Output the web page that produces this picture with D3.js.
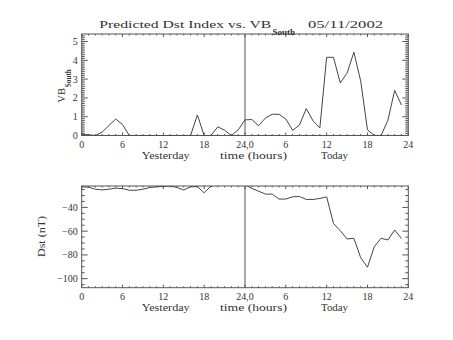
<!DOCTYPE html>
<html>
<head>
<meta charset="utf-8">
<script src="https://cdn.jsdelivr.net/npm/d3@7"></script>
<style>
  html, body { margin: 0; padding: 0; background: #fff; }
  svg text { font-family: "Liberation Serif", "DejaVu Serif", serif; fill: #333; }
</style>
</head>
<body>
<svg id="chart" width="453" height="340"></svg>
<script>
// ---- data ----
const hours = d3.range(48);
const vbSouth = [0.05, 0.04, 0, 0.18, 0.53, 0.88, 0.58, 0, 0, 0,
                 0, 0, 0, 0, 0, 0, 0, 1.09, 0, 0,
                 0.46, 0.28, 0, 0.30, 0.83, 0.85, 0.52, 0.93, 1.13, 1.13,
                 0.88, 0.28, 0.55, 1.43, 0.78, 0.40, 4.16, 4.16, 2.80, 3.32,
                 4.43, 2.91, 0.30, 0, 0, 0.81, 2.40, 1.62];
const dst = [-22.7, -23.0, -24.7, -25.3, -24.7, -23.8, -24.2, -25.6, -25.6, -24.7,
             -23.3, -22.7, -22.4, -22.0, -23.3, -25.3, -22.7, -22.5, -27.7, -22.0,
             -21.0, -20.0, -21.0, -21.0, -21.0, -24.0, -26.4, -28.8, -28.8, -33.0,
             -33.0, -31.1, -30.8, -33.3, -33.3, -32.5, -31.1, -53.5, -59.6, -66.6,
             -66.0, -82.3, -90.4, -73.1, -66.0, -67.4, -59.0, -66.3];
const xTickValues = [0, 6, 12, 18, 24, 30, 36, 42, 48];
const xTickLabels = ["0", "6", "12", "18", "24,0", "6", "12", "18", "24"];
const vbTicks = [0, 1, 2, 3, 4, 5];
const dstTicks = [-40, -60, -80, -100];
const dayLabels = ["Yesterday", "time (hours)", "Today"];
const titleMain = "Predicted Dst Index vs. VB";
const titleSub = "South";
const titleDate = "05/11/2002";

// ---- layout ----
const svg = d3.select("#chart");
const axisColor = "#555";
const lineColor = "#444";
const X0 = 81.7, X1 = 408.3;
const x = d3.scaleLinear().domain([0, 48]).range([X0, X1]);

function panel(cfg) {
  const g = svg.append("g");
  const y = cfg.y;
  const [yB, yT] = y.range();
  const id = "clip" + cfg.name;
  svg.append("clipPath").attr("id", id)
    .append("rect").attr("x", X0).attr("y", yT).attr("width", X1 - X0).attr("height", yB - yT);

  // minor/major ticks (inward)
  const xMinor = d3.range(0, 49, 1);
  g.selectAll(".xmb").data(xMinor).join("line")
    .attr("x1", d => x(d)).attr("x2", d => x(d))
    .attr("y1", yB).attr("y2", d => yB - (d % 6 === 0 ? 3 : 1.5))
    .attr("stroke", axisColor);
  g.selectAll(".xmt").data(xMinor).join("line")
    .attr("x1", d => x(d)).attr("x2", d => x(d))
    .attr("y1", yT).attr("y2", d => yT + (d % 6 === 0 ? 3 : 1.5))
    .attr("stroke", axisColor);
  const yMinor = cfg.minor.filter(v => v >= y.domain()[0] && v <= y.domain()[1]);
  const isMajor = v => cfg.ticks.some(t => Math.abs(t - v) < 1e-6);
  g.selectAll(".yml").data(yMinor).join("line")
    .attr("x1", X0).attr("x2", d => X0 + (isMajor(d) ? 6 : 3))
    .attr("y1", d => y(d)).attr("y2", d => y(d))
    .attr("stroke", axisColor);
  g.selectAll(".ymr").data(yMinor).join("line")
    .attr("x1", X1).attr("x2", d => X1 - (isMajor(d) ? 6 : 3))
    .attr("y1", d => y(d)).attr("y2", d => y(d))
    .attr("stroke", axisColor);

  // box
  g.append("rect").attr("x", X0).attr("y", yT).attr("width", X1 - X0).attr("height", yB - yT)
    .attr("fill", "none").attr("stroke", axisColor);
  // day separator
  g.append("line").attr("x1", x(24)).attr("x2", x(24)).attr("y1", yT).attr("y2", yB)
    .attr("stroke", axisColor);

  // x tick labels
  g.selectAll(".xl").data(xTickValues).join("text")
    .attr("x", d => x(d)).attr("y", yB + 12.5)
    .attr("text-anchor", "middle").attr("font-size", 10)
    .text((d, i) => xTickLabels[i]);
  // y tick labels
  g.selectAll(".yl").data(cfg.ticks).join("text")
    .attr("x", X0 - 4).attr("y", d => y(d) + 3.5)
    .attr("text-anchor", "end").attr("font-size", 10)
    .text(d => d < 0 ? "\u2212" + Math.abs(d) : d);

  // day labels
  const dl = [[141.7, 48], [220, 67], [321, 27]];
  g.selectAll(".dl").data(dayLabels).join("text")
    .attr("x", (d, i) => dl[i][0]).attr("y", yB + 23)
    .attr("font-size", 10)
    .attr("textLength", (d, i) => dl[i][1]).attr("lengthAdjust", "spacingAndGlyphs")
    .text(d => d);

  // data line
  const line = d3.line().x((d, i) => x(hours[i])).y(d => y(d));
  g.append("path").datum(cfg.values)
    .attr("clip-path", "url(#" + id + ")")
    .attr("d", line).attr("fill", "none").attr("stroke", lineColor).attr("stroke-width", 1);
}

const yTop = d3.scaleLinear().domain([0, 5.4]).range([135.5, 34]);
panel({ name: "vb", y: yTop, ticks: vbTicks, minor: d3.range(0, 54).map(v => +(v / 10).toFixed(1)), values: vbSouth });

const yBot = d3.scaleLinear().domain([-107.6, -22]).range([287.7, 186]);
panel({ name: "dst", y: yBot, ticks: dstTicks, minor: d3.range(-105, -21, 5), values: dst });

// title
svg.append("text").attr("x", 99.3).attr("y", 28).attr("font-size", 11)
  .attr("textLength", 172).attr("lengthAdjust", "spacingAndGlyphs").text(titleMain);
svg.append("text").attr("x", 272.5).attr("y", 34.5).attr("font-size", 7.5)
  .attr("textLength", 22.5).attr("lengthAdjust", "spacingAndGlyphs").attr("font-weight", "bold").text(titleSub);
svg.append("text").attr("x", 308).attr("y", 28).attr("font-size", 11)
  .attr("textLength", 75).attr("lengthAdjust", "spacingAndGlyphs").text(titleDate);

// y axis titles
const gy1 = svg.append("g").attr("transform", "translate(65,102.7) rotate(-90)");
gy1.append("text").attr("x", 0).attr("y", 0).attr("font-size", 11)
  .attr("textLength", 14.7).attr("lengthAdjust", "spacingAndGlyphs").text("VB");
gy1.append("text").attr("x", 15.5).attr("y", 5.5).attr("font-size", 7.5)
  .attr("textLength", 18).attr("lengthAdjust", "spacingAndGlyphs").attr("font-weight", "bold").text("South");

const gy2 = svg.append("g").attr("transform", "translate(45,257) rotate(-90)");
gy2.append("text").attr("x", 0).attr("y", 0).attr("font-size", 11)
  .attr("textLength", 41).attr("lengthAdjust", "spacingAndGlyphs").text("Dst (nT)");
</script>
</body>
</html>
